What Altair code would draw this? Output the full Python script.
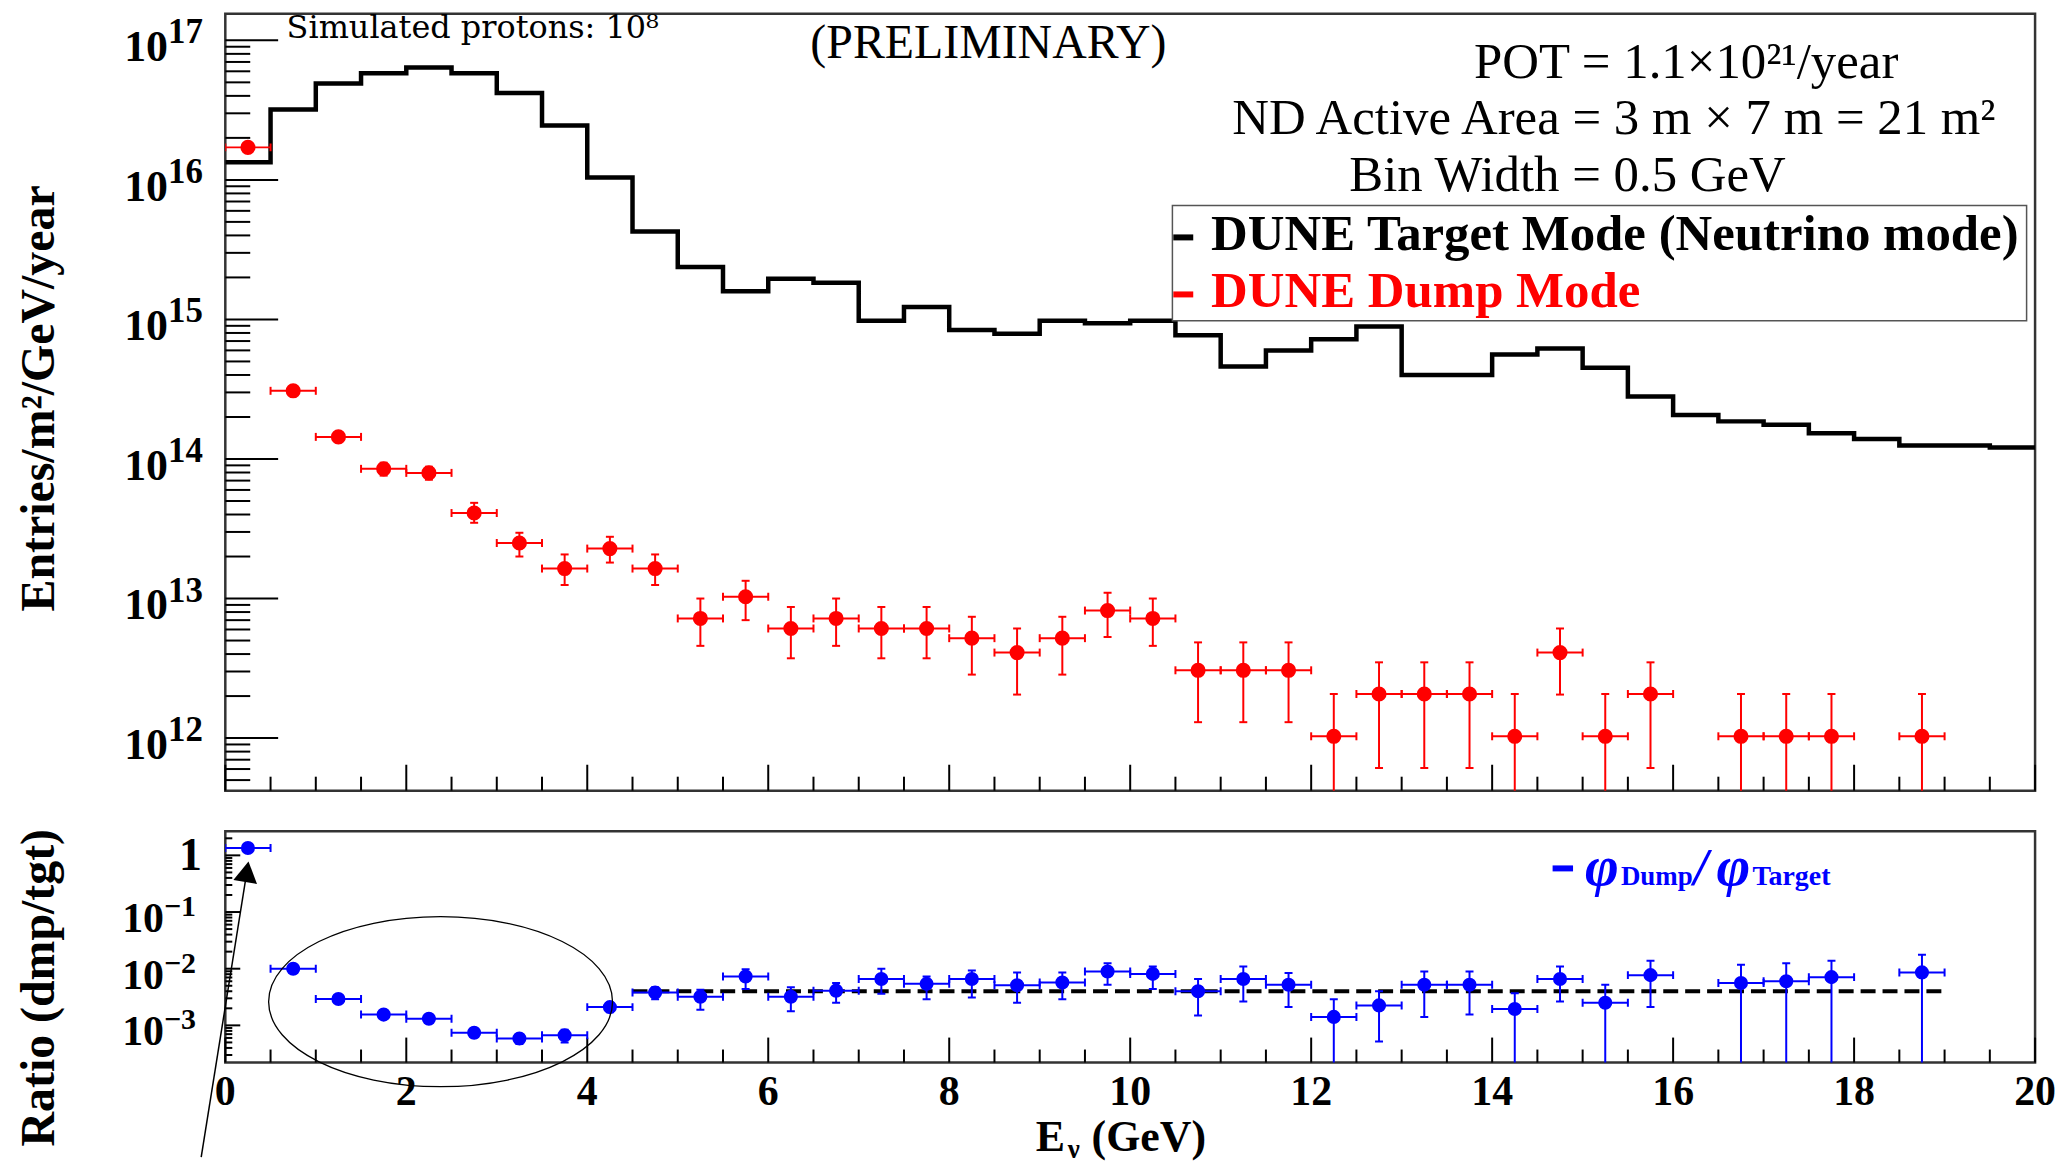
import altair as alt
import pandas as pd

FONT = "Liberation Serif"

# ---------------- data ----------------
# DUNE target mode histogram: bin lower edges (GeV) and flux
bin_low = [0.0, 0.5, 1.0, 1.5, 2.0, 2.5, 3.0, 3.5, 4.0, 4.5,
           5.0, 5.5, 6.0, 6.5, 7.0, 7.5, 8.0, 8.5, 9.0, 9.5,
           10.0, 10.5, 11.0, 11.5, 12.0, 12.5, 13.0, 13.5, 14.0, 14.5,
           15.0, 15.5, 16.0, 16.5, 17.0, 17.5, 18.0, 18.5, 19.0, 19.5]
target_flux = [1.34e16, 3.2e16, 4.9e16, 5.8e16, 6.4e16, 5.8e16, 4.2e16, 2.45e16, 1.04e16, 4.27e15,
               2.38e15, 1.59e15, 1.96e15, 1.83e15, 9.8e14, 1.23e15, 8.4e14, 7.9e14, 9.8e14, 9.4e14,
               9.8e14, 7.7e14, 4.6e14, 6.0e14, 7.2e14, 8.9e14, 4.0e14, 4.0e14, 5.6e14, 6.2e14,
               4.5e14, 2.8e14, 2.07e14, 1.86e14, 1.76e14, 1.53e14, 1.39e14, 1.25e14, 1.25e14, 1.21e14]
hist_end = 20.0
bin_half = 0.25

# DUNE dump mode points (bin centres that have entries)
dump_x = [0.25, 0.75, 1.25, 1.75, 2.25, 2.75, 3.25, 3.75, 4.25, 4.75,
          5.25, 5.75, 6.25, 6.75, 7.25, 7.75, 8.25, 8.75, 9.25, 9.75,
          10.25, 10.75, 11.25, 11.75, 12.25, 12.75, 13.25, 13.75, 14.25, 14.75,
          15.25, 15.75, 16.75, 17.25, 17.75, 18.75]
dump_flux = [1.71e16, 3.08e14, 1.44e14, 8.5e13, 7.95e13, 4.1e13, 2.5e13, 1.64e13, 2.28e13, 1.64e13,
             7.2e12, 1.03e13, 6.1e12, 7.2e12, 6.1e12, 6.1e12, 5.2e12, 4.1e12, 5.2e12, 8.2e12,
             7.2e12, 3.06e12, 3.06e12, 3.06e12, 1.03e12, 2.07e12, 2.07e12, 2.07e12, 1.03e12, 4.1e12,
             1.03e12, 2.07e12, 1.03e12, 1.03e12, 1.03e12, 1.03e12]
# lower ends of 1e10 run below the axis (bars reach the frame)
dump_lo = [1.69e16, 2.9e14, 1.32e14, 7.6e13, 7.1e13, 3.49e13, 2.0e13, 1.25e13, 1.81e13, 1.25e13,
           4.58e12, 7.0e12, 3.73e12, 4.58e12, 3.73e12, 3.73e12, 2.85e12, 2.05e12, 2.85e12, 5.3e12,
           4.58e12, 1.3e12, 1.3e12, 1.3e12, 1e10, 6.1e11, 6.1e11, 6.1e11, 1e10, 2.05e12,
           1e10, 6.1e11, 1e10, 1e10, 1e10, 1e10]
dump_hi = [1.73e16, 3.26e14, 1.56e14, 9.4e13, 8.8e13, 4.85e13, 2.96e13, 2.07e13, 2.77e13, 2.07e13,
           1.0e13, 1.34e13, 8.7e12, 1.0e13, 8.7e12, 8.7e12, 7.4e12, 6.1e12, 7.4e12, 1.1e13,
           1.0e13, 4.85e12, 4.85e12, 4.85e12, 2.07e12, 3.49e12, 3.49e12, 3.49e12, 2.07e12, 6.1e12,
           2.07e12, 3.49e12, 2.07e12, 2.07e12, 2.07e12, 2.07e12]

# ratio dump / target
ratio_val = [1.35, 1.0e-2, 2.92e-3, 1.55e-3, 1.31e-3, 7.4e-4, 5.85e-4, 6.7e-4, 2.1e-3, 3.8e-3,
             3.2e-3, 7.3e-3, 3.2e-3, 4.1e-3, 6.6e-3, 5.4e-3, 6.6e-3, 5.1e-3, 5.7e-3, 8.9e-3,
             8.1e-3, 4.0e-3, 6.6e-3, 5.2e-3, 1.41e-3, 2.25e-3, 5.2e-3, 5.2e-3, 1.95e-3, 6.6e-3,
             2.5e-3, 7.7e-3, 5.6e-3, 6.0e-3, 7.1e-3, 8.6e-3]
ratio_lo = [1.31, 9.4e-3, 2.67e-3, 1.38e-3, 1.17e-3, 6.2e-4, 4.7e-4, 5.0e-4, 1.7e-3, 2.9e-3,
            1.89e-3, 4.4e-3, 1.77e-3, 2.5e-3, 3.6e-3, 2.9e-3, 3.1e-3, 2.5e-3, 2.9e-3, 5.2e-3,
            4.4e-3, 1.5e-3, 2.65e-3, 2.1e-3, 1e-6, 5.2e-4, 1.4e-3, 1.55e-3, 1e-6, 2.65e-3,
            1e-6, 2.1e-3, 1e-6, 1e-6, 1e-6, 1e-6]
ratio_hi = [1.39, 1.06e-2, 3.17e-3, 1.72e-3, 1.45e-3, 8.7e-4, 6.9e-4, 8.4e-4, 2.5e-3, 4.7e-3,
            4.26e-3, 9.8e-3, 4.7e-3, 5.6e-3, 1.0e-2, 7.3e-3, 9.3e-3, 8.6e-3, 8.6e-3, 1.25e-2,
            1.09e-2, 6.6e-3, 1.09e-2, 8.4e-3, 2.9e-3, 4.0e-3, 8.9e-3, 8.9e-3, 3.7e-3, 1.09e-2,
            5.2e-3, 1.38e-2, 1.17e-2, 1.25e-2, 1.38e-2, 1.76e-2]

# flat fit line in the ratio panel
fit_x = [4.5, 19.0]
fit_level = [4.0e-3, 4.0e-3]

# ellipse annotation (centre in data units) and arrow (data units)
ellipse_center = [2.379, 2.62e-3]
arrow_from = [-0.2665, 4.72e-6]
arrow_to = [0.226, 0.388]
arrow_head = [0.238, 0.513]

# axis ticks / labels
x_major = [0, 2, 4, 6, 8, 10, 12, 14, 16, 18, 20]
x_labels = ["0", "2", "4", "6", "8", "10", "12", "14", "16", "18", "20"]
x_minor = [0.5, 1, 1.5, 2.5, 3, 3.5, 4.5, 5, 5.5, 6.5, 7, 7.5, 8.5, 9, 9.5,
           10.5, 11, 11.5, 12.5, 13, 13.5, 14.5, 15, 15.5, 16.5, 17, 17.5, 18.5, 19, 19.5]
top_decades = [1e12, 1e13, 1e14, 1e15, 1e16, 1e17]
top_exp = ["12", "13", "14", "15", "16", "17"]
bot_decades = [0.1, 0.01, 0.001]
bot_exp = ["\u22121", "\u22122", "\u22123"]

TOP_DOMAIN = [4.2e11, 1.549e17]
BOT_DOMAIN = [2.213e-4, 2.666]
top_minor = [m * 10.0 ** n for n in range(11, 17) for m in range(2, 10)
             if TOP_DOMAIN[0] <= m * 10.0 ** n <= TOP_DOMAIN[1]]
bot_minor = [m * 10.0 ** n for n in range(-4, 1) for m in range(2, 10)
             if BOT_DOMAIN[0] <= m * 10.0 ** n <= BOT_DOMAIN[1]]

# ---------------- layout ----------------
W = 1815.5
H1 = 779.3
H2 = 232.0
RED = "#ff0000"
BLUE = "#0000ff"

xs = alt.Scale(domain=[0, 20], nice=False, zero=False)
ys1 = alt.Scale(type="log", domain=TOP_DOMAIN, nice=False)
ys2 = alt.Scale(type="log", domain=BOT_DOMAIN, nice=False)

one = pd.DataFrame({"k": [0]})


def X(f):
    return alt.X(f, type="quantitative", scale=xs, axis=None)


def Y1(f):
    return alt.Y(f, type="quantitative", scale=ys1, axis=None)


def Y2(f):
    return alt.Y(f, type="quantitative", scale=ys2, axis=None)


def txt(s, x, y, size, weight="normal", style="normal", color="black",
        align="left", angle=0, font=FONT):
    return alt.Chart(one).mark_text(
        text=s, font=font, fontSize=size, fontWeight=weight, fontStyle=style,
        color=color, align=align, baseline="alphabetic", angle=angle
    ).encode(x=alt.value(x), y=alt.value(y))


def hrule(x1, x2, y, color, width):
    return alt.Chart(one).mark_rule(color=color, strokeWidth=width).encode(
        x=alt.value(x1), x2=alt.value(x2), y=alt.value(y))


def errbars(df, Y, color, msize):
    base = alt.Chart(df)
    vbar = base.mark_rule(color=color, strokeWidth=2, clip=True).encode(
        x=X("x"), y=Y("lo"), y2=alt.Y2("hi"))
    hbar = base.mark_rule(color=color, strokeWidth=2, clip=True).encode(
        x=X("xl"), x2=alt.X2("xr"), y=Y("v"))
    caps = []
    for f in ["hi", "lo"]:
        caps.append(base.mark_tick(orient="horizontal", size=8, thickness=2,
                                   color=color, opacity=1, clip=True).encode(
            x=X("x"), y=Y(f)))
    for f in ["xl", "xr"]:
        caps.append(base.mark_tick(orient="vertical", size=8, thickness=2,
                                   color=color, opacity=1, clip=True).encode(
            x=X(f), y=Y("v")))
    pts = base.mark_point(shape="circle", filled=True, size=msize, color=color,
                          opacity=1, clip=True).encode(x=X("x"), y=Y("v"))
    return [vbar, hbar] + caps + [pts]


def xticks(H, lmaj, lmin):
    maj = alt.Chart(pd.DataFrame({"t": x_major})).mark_rule(color="black", strokeWidth=2).encode(
        x=X("t"), y=alt.value(H), y2=alt.value(H - lmaj))
    mnr = alt.Chart(pd.DataFrame({"t": x_minor})).mark_rule(color="black", strokeWidth=2).encode(
        x=X("t"), y=alt.value(H), y2=alt.value(H - lmin))
    return [maj, mnr]


def yticks(Y, majors, minors, lmaj, lmin):
    maj = alt.Chart(pd.DataFrame({"t": majors})).mark_rule(color="black", strokeWidth=2).encode(
        y=Y("t"), x=alt.value(0), x2=alt.value(lmaj))
    mnr = alt.Chart(pd.DataFrame({"t": minors})).mark_rule(color="black", strokeWidth=2).encode(
        y=Y("t"), x=alt.value(0), x2=alt.value(lmin))
    return [maj, mnr]


# ---------------- top panel ----------------
hist = pd.DataFrame({"e": bin_low + [hist_end], "v": target_flux + [target_flux[-1]]})
dump = pd.DataFrame({"x": dump_x, "v": dump_flux, "lo": dump_lo, "hi": dump_hi,
                     "xl": [c - bin_half for c in dump_x],
                     "xr": [c + bin_half for c in dump_x]})

anchor = alt.Chart(one).mark_rule(strokeOpacity=0, strokeWidth=0.01).encode(
    x=alt.value(-216.5), x2=alt.value(-216.5), y=alt.value(-2.7), y2=alt.value(-2.7))

hist_line = alt.Chart(hist).mark_line(interpolate="step-after", color="black",
                                      strokeWidth=4.5, clip=True).encode(x=X("e"), y=Y1("v"))

top_lab_base = alt.Chart(pd.DataFrame({"t": top_decades})).mark_text(
    text="10", font=FONT, fontSize=44, fontWeight="bold", align="right",
    baseline="alphabetic", dy=21, color="black").encode(x=alt.value(-57.5), y=Y1("t"))
top_lab_exp = alt.Chart(pd.DataFrame({"t": top_decades, "e": top_exp})).mark_text(
    font=FONT, fontSize=35, fontWeight="bold", align="left",
    baseline="alphabetic", dy=3, color="black").encode(x=alt.value(-57.5), y=Y1("t"), text="e:N")

legend_box = alt.Chart(one).mark_rect(fill="white", stroke="#555555", strokeWidth=1.5).encode(
    x=alt.value(950.1), x2=alt.value(1807), y=alt.value(192.3), y2=alt.value(308))

top_layers = (
    [anchor]
    + xticks(H1, 26, 14)
    + yticks(Y1, top_decades, top_minor, 53, 25)
    + [hist_line]
    + errbars(dump, Y1, RED, 230)
    + [
        legend_box,
        hrule(951, 971, 224.3, "black", 6),
        txt("DUNE Target Mode (Neutrino mode)", 988.9, 237.3, 51, weight="bold"),
        hrule(951, 971, 281.5, RED, 6),
        txt("DUNE Dump Mode", 988.9, 294, 51, weight="bold", color=RED),
        txt("Simulated protons: 10\u2078", 61.5, 24, 32, font="DejaVu Serif"),
        txt("(PRELIMINARY)", 765.5, 44, 48, align="center"),
        txt("POT = 1.1\u00d710\u00b2\u00b9/year", 1465.5, 64, 51, align="center"),
        txt("ND Active Area = 3 m \u00d7 7 m = 21 m\u00b2", 1393, 120.6, 51, align="center"),
        txt("Bin Width = 0.5 GeV", 1346.5, 177.3, 51, align="center"),
        top_lab_base, top_lab_exp,
        txt("Entries/m\u00b2/GeV/year", -171.5, 385.8, 48, weight="bold", angle=270, align="center"),
    ]
)
top = alt.layer(*top_layers).properties(width=W, height=H1)

# ---------------- bottom panel ----------------
ratio = pd.DataFrame({"x": dump_x, "v": ratio_val, "lo": ratio_lo, "hi": ratio_hi,
                      "xl": [c - bin_half for c in dump_x],
                      "xr": [c + bin_half for c in dump_x]})

x_lab = alt.Chart(pd.DataFrame({"t": x_major, "lab": x_labels})).mark_text(
    font=FONT, fontSize=42, fontWeight="bold", align="center", baseline="alphabetic",
    color="black").encode(x=X("t"), y=alt.value(H2 + 43), text="lab:N")

fit = pd.DataFrame({"x": [fit_x[0]], "x2": [fit_x[1]], "y": [fit_level[0]]})
fit_line = alt.Chart(fit).mark_rule(color="black", strokeWidth=4, strokeDash=[15, 7]).encode(
    x=X("x"), x2=alt.X2("x2"), y=Y2("y"))

ell_path = "M -1 0 A 1 0.4945 0 1 1 1 0 A 1 0.4945 0 1 1 -1 0 Z"
ell = alt.Chart(pd.DataFrame({"x": [ellipse_center[0]], "y": [ellipse_center[1]]})).mark_point(
    shape=ell_path, size=345.0 ** 2, filled=False, stroke="black", strokeWidth=1.3,
    opacity=1, clip=False).encode(x=X("x"), y=Y2("y"))

arrow_df = pd.DataFrame({"x0": [arrow_from[0]], "y0": [arrow_from[1]],
                         "x1": [arrow_to[0]], "y1": [arrow_to[1]]})
arrow_line = alt.Chart(arrow_df).mark_rule(color="black", strokeWidth=1.5, clip=False).encode(
    x=X("x0"), y=Y2("y0"), x2=alt.X2("x1"), y2=alt.Y2("y1"))
arrow_tip = alt.Chart(pd.DataFrame({"x": [arrow_head[0]], "y": [arrow_head[1]]})).mark_point(
    shape="triangle-up", size=576, filled=True, color="black", opacity=1, angle=9.2,
    clip=False).encode(x=X("x"), y=Y2("y"))

bot_lab_one = alt.Chart(pd.DataFrame({"t": [1.0]})).mark_text(
    text="1", font=FONT, fontSize=46, fontWeight="bold", align="right",
    baseline="alphabetic", dy=15, color="black").encode(x=alt.value(-23.5), y=Y2("t"))
bot_lab_base = alt.Chart(pd.DataFrame({"t": bot_decades})).mark_text(
    text="10", font=FONT, fontSize=42, fontWeight="bold", align="right",
    baseline="alphabetic", dy=20, color="black").encode(x=alt.value(-61.5), y=Y2("t"))
bot_lab_exp = alt.Chart(pd.DataFrame({"t": bot_decades, "e": bot_exp})).mark_text(
    font=FONT, fontSize=30, fontWeight="bold", align="left",
    baseline="alphabetic", dy=4, color="black").encode(x=alt.value(-61.5), y=Y2("t"), text="e:N")

bot_layers = (
    xticks(H2, 25, 13)
    + yticks(Y2, [1.0] + bot_decades, bot_minor, 15, 7)
    + [fit_line]
    + errbars(ratio, Y2, BLUE, 200)
    + [
        x_lab,
        ell, arrow_line, arrow_tip,
        bot_lab_one, bot_lab_base, bot_lab_exp,
        txt("Ratio (dmp/tgt)", -171.5, 157, 48, weight="bold", angle=270, align="center"),
        txt("E", 813, 321, 44, weight="bold"),
        txt("\u03bd", 845, 328, 27, weight="bold"),
        txt("(GeV)", 869, 321, 44, weight="bold"),
        hrule(1331.5, 1352, 37.3, BLUE, 6),
        txt("\u03c6", 1364, 54, 58, weight="bold", style="italic", color=BLUE),
        txt("Dump", 1400, 54, 27, weight="bold", color=BLUE),
        txt("/", 1473, 54, 52, weight="bold", style="italic", color=BLUE),
        txt("\u03c6", 1496, 54, 58, weight="bold", style="italic", color=BLUE),
        txt("Target", 1532, 54, 28, weight="bold", color=BLUE),
    ]
)
bottom = alt.layer(*bot_layers).properties(width=W, height=H2)

chart = (
    alt.vconcat(top, bottom, spacing=34)
    .resolve_scale(x="independent", y="independent")
    .properties(padding=0, background="white")
    .configure_view(stroke="#333333", strokeWidth=2.5)
)

chart.save("out.html", embed_options={"renderer": "svg", "actions": False})
